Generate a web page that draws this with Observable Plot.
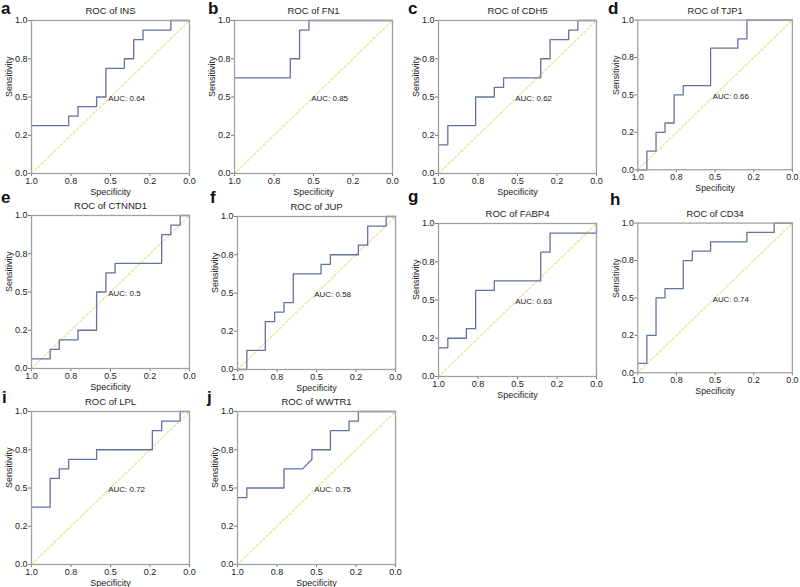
<!DOCTYPE html>
<html><head><meta charset="utf-8">
<script src="https://cdn.jsdelivr.net/npm/d3@7"></script>
<script src="https://cdn.jsdelivr.net/npm/@observablehq/plot@0.6"></script>
<style>
body{margin:0;background:#fff;font-family:"Liberation Sans",Arial,sans-serif}
#root{position:relative;width:800px;height:587px;overflow:hidden;background:#fff}
.panel{position:absolute}
.letter{position:absolute;font-weight:bold;font-size:17px;line-height:17px;color:#111}
</style></head><body><div id="root"></div>
<script>
// ---- data ----
const genes = ["INS","FN1","CDH5","TJP1","CTNND1","JUP","FABP4","CD34","LPL","WWTR1"];
const letters = ["a","b","c","d","e","f","g","h","i","j"];
const aucs = ["0.64","0.85","0.62","0.66","0.5","0.58","0.63","0.74","0.72","0.75"];
const xTickValues = [1,0.75,0.5,0.25,0];
const xTickLabels = ["1.0","0.8","0.5","0.2","0.0"];
const yTickValues = [0,0.25,0.5,0.75,1];
const yTickLabels = ["0.0","0.2","0.5","0.8","1.0"];
const chanceSpec = [1,0];
const chanceSens = [0,1];

// ROC step points (specificity, sensitivity); horizontal move then vertical rise
const specINS = [1,.765,.706,.588,.529,.412,.353,.294,.118,0];
const sensINS = [.3125,.375,.4375,.5,.6875,.75,.875,.9375,1,1];
const specFN1 = [1,.647,.588,.529,0];
const sensFN1 = [.625,.75,.9375,1,1];
const specCDH5 = [1,.941,.765,.647,.588,.353,.294,.176,.118,0];
const sensCDH5 = [.1875,.3125,.5,.5625,.625,.75,.875,.9375,1,1];
const specTJP1 = [1,.941,.882,.824,.765,.706,.529,.353,.294,0];
const sensTJP1 = [0,.125,.25,.3125,.5,.5625,.8125,.875,1,1];
const specCTNND1 = [1,.882,.824,.706,.588,.529,.471,.176,.118,.059,0];
const sensCTNND1 = [.0625,.125,.1875,.25,.5,.625,.6875,.875,.9375,1,1];
const specJUP = [1,.941,.824,.765,.706,.647,.471,.412,.235,.176,.059,0];
const sensJUP = [0,.125,.3125,.375,.4375,.625,.6875,.75,.8125,.9375,1,1];
const specFABP4 = [1,.941,.824,.765,.647,.353,.294,0];
const sensFABP4 = [.1875,.25,.3125,.5625,.625,.8125,.9375,1];
const specCD34 = [1,.941,.882,.824,.706,.647,.529,.294,.118,0];
const sensCD34 = [.0625,.25,.5,.5625,.75,.8125,.875,.9375,1,1];
const specLPL = [1,.882,.824,.765,.588,.235,.176,.059,0];
const sensLPL = [.375,.5625,.625,.6875,.75,.875,.9375,1,1];
const specWWTR1 = [1,.941,.706,.588,.529,.529,.412,.294,.235,0];
const sensWWTR1 = [.4375,.5,.625,.625,.6875,.75,.875,.9375,1,1];
const tiesWWTR1 = [4]; // diagonal (tied) transition index

const specs = [specINS,specFN1,specCDH5,specTJP1,specCTNND1,specJUP,specFABP4,specCD34,specLPL,specWWTR1];
const senses = [sensINS,sensFN1,sensCDH5,sensTJP1,sensCTNND1,sensJUP,sensFABP4,sensCD34,sensLPL,sensWWTR1];
const ties = [[],[],[],[],[],[],[],[],[],tiesWWTR1];

// ---- layout ----
const frameLeft = [30.7,234.3,437.7,638.3,30.7,236.7,437.7,638.3,30.7,236.7];
const frameTop  = [20,20,20,20,215,215.7,223.3,223.3,410.7,410.7];
const letterX = [1,208,408,608,1,210,408,610,2,207];
const letterBase = [13.5,13.5,13.5,13.5,203,203,202,205,403,403];
const FW = 158, FH = 153, ML = 32, MT = 18, MR = 8, MB = 26;

function expand(s, y, tie){
  const out = [{spec:s[0], sens:y[0]}];
  for (let i = 1; i < s.length; i++){
    if (!tie.includes(i)) out.push({spec:s[i], sens:y[i-1]});
    out.push({spec:s[i], sens:y[i]});
  }
  return out;
}

const root = document.getElementById("root");
const font = "'Liberation Sans', Arial, sans-serif";
for (let i = 0; i < genes.length; i++){
  const data = expand(specs[i], senses[i], ties[i]);
  const chance = chanceSpec.map((s,k)=>({spec:s, sens:chanceSens[k]}));
  const svg = Plot.plot({
    width: ML+FW+MR, height: MT+FH+MB,
    marginLeft: ML, marginRight: MR, marginTop: MT, marginBottom: MB,
    style: {fontFamily: font, fontSize: "9px", color: "#222", background: "transparent", overflow: "visible"},
    x: {domain: [1,0]},
    y: {domain: [0,1]},
    marks: [
      Plot.axisX({ticks: xTickValues, tickFormat: d => xTickLabels[xTickValues.indexOf(d)], tickSize: 3, tickPadding: 1, label: null, fontSize: 9, stroke: "#777"}),
      Plot.axisY({ticks: yTickValues, tickFormat: d => yTickLabels[yTickValues.indexOf(d)], tickSize: 3, tickPadding: 1, label: null, fontSize: 9, stroke: "#777"}),
      Plot.line(chance, {x: "spec", y: "sens", stroke: "#ede7a6", strokeWidth: 1.6, strokeDasharray: "2,2.5"}),
      Plot.line(data, {x: "spec", y: "sens", stroke: "#63729f", strokeWidth: 1.3}),
      Plot.frame({stroke: "#a0a0a0", strokeWidth: 1.3}),
      Plot.text([`AUC: ${aucs[i]}`], {x: () => 0.515, y: () => 0.49, text: d => d, textAnchor: "start", fontSize: 8, fill: "#222"}),
      Plot.text([`ROC of ${genes[i]}`], {frameAnchor: "top", dy: -13, text: d => d, fontSize: 9.5, fill: "#222"}),
      Plot.text(["Specificity"], {frameAnchor: "bottom", dy: 21.5, text: d => d, fontSize: 9, fill: "#222"}),
      Plot.text(["Sensitivity"], {frameAnchor: "left", dx: -22, rotate: -90, text: d => d, fontSize: 9, fill: "#222"})
    ]
  });
  const div = document.createElement("div");
  div.className = "panel";
  div.style.left = (frameLeft[i] - ML) + "px";
  div.style.top = (frameTop[i] - MT) + "px";
  div.appendChild(svg);
  root.appendChild(div);
  const lab = document.createElement("div");
  lab.className = "letter";
  lab.textContent = letters[i];
  lab.style.left = letterX[i] + "px";
  lab.style.top = (letterBase[i] - 14) + "px";
  root.appendChild(lab);
}
</script></body></html>
